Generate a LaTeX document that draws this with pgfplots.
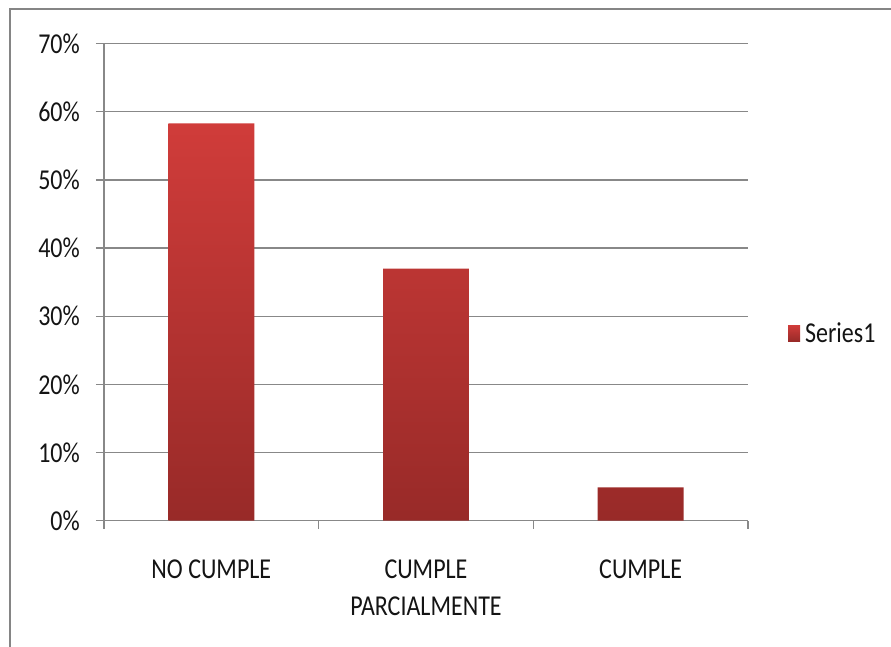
\documentclass[border=0pt]{standalone}
\usepackage{pgfplots}
\pgfplotsset{compat=1.18}
\usepackage{fontspec}
\setmainfont{Carlito}

\definecolor{barTop}{HTML}{D03C3A}
\definecolor{barBot}{HTML}{982A28}
\definecolor{gridGray}{HTML}{888888}
\definecolor{frameGray}{HTML}{858585}
\definecolor{txt}{HTML}{141414}

% labels are set slightly taller than wide
\newcommand{\tall}[1]{\scalebox{1}[1.2]{#1}}
\newcommand{\cat}[1]{\tall{\begin{tabular}{@{}c@{}}#1\end{tabular}}}

\begin{document}
\begin{tikzpicture}[x=1pt,y=1pt]
  \useasboundingbox (0,0) rectangle (891,647);
  % chart frame (left and top edges visible)
  \draw[frameGray, line width=2pt] (10,0) -- (10,638) -- (891,638);

  \begin{axis}[
    at={(104pt,126.3pt)}, anchor=south west,
    scale only axis,
    width=644pt, height=477pt,
    xmin=-0.5, xmax=2.5,
    ymin=0, ymax=70,
    axis x line*=bottom, axis y line*=left,
    axis line style={gridGray, line width=1.3pt},
    ytick={0,10,...,70},
    yticklabel={\tall{\pgfmathprintnumber{\tick}\%}},
    /pgf/number format/assume math mode=true,
    xtick={-0.5,0.5,1.5,2.5},
    x tick label as interval,
    xticklabels={\cat{NO CUMPLE}, \cat{CUMPLE\\PARCIALMENTE}, \cat{CUMPLE}},
    tick align=outside,
    major tick length=8pt,
    tick style={gridGray, line width=1.3pt},
    ymajorgrids,
    grid style={gridGray, line width=1.3pt},
    tick label style={font=\fontsize{24}{31}\selectfont, text=txt},
    yticklabel style={anchor=east, inner sep=0pt, xshift=-16pt},
    xticklabel style={anchor=north, inner sep=0pt, yshift=-23.3pt},
    legend style={at={(1.062,0.393)}, anchor=west, draw=none, fill=none,
      inner sep=0pt, font=\fontsize{24}{28}\selectfont, text=txt},
    legend cell align=left,
    legend image code/.code={%
      \path[top color=barTop, bottom color=barBot] (0pt,-8pt) rectangle (12pt,8pt);
      \path (15pt,0pt);},
  ]
    \addplot[ybar, bar width=0.4, draw=none, top color=barTop, bottom color=barBot]
      coordinates {(0,58.3) (1,37.0) (2,4.9)};
    \addlegendentry{\tall{Series1}}
  \end{axis}
\end{tikzpicture}
\end{document}
